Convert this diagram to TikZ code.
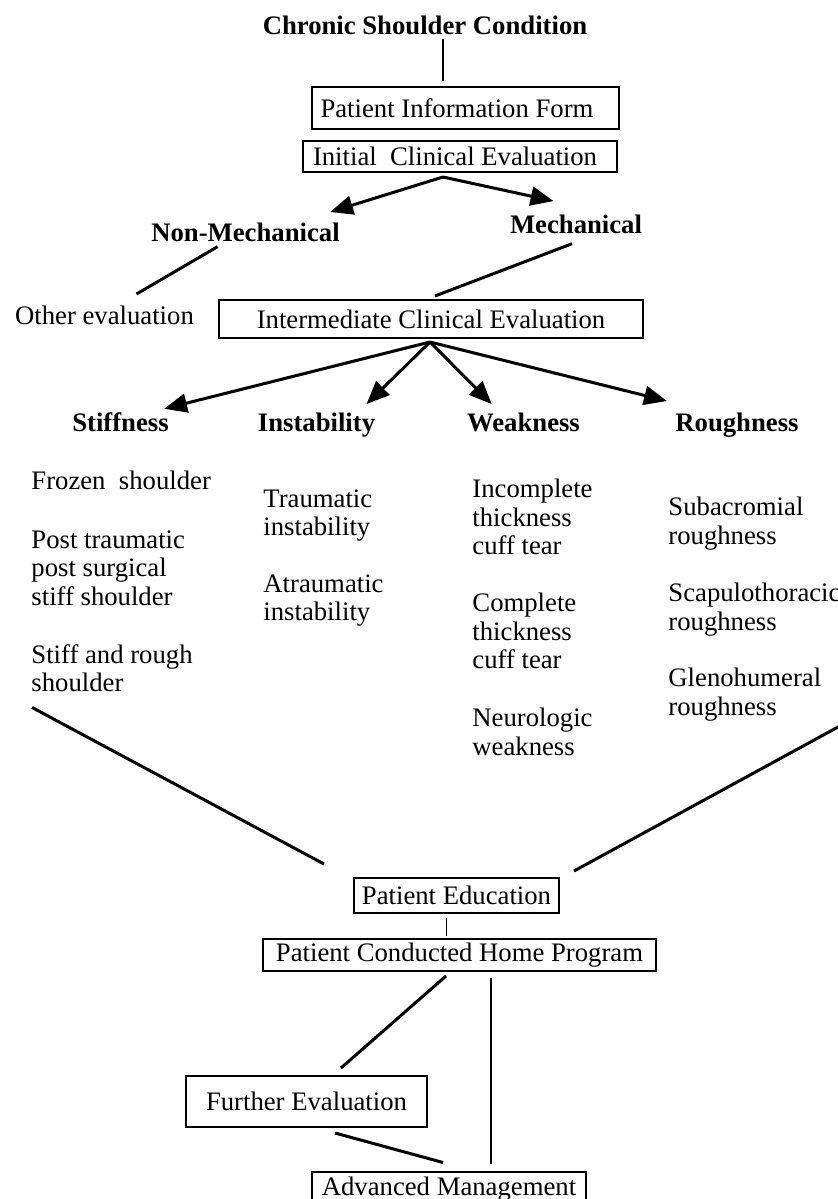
\documentclass[tikz,border=0pt]{standalone}
\usepackage{fontspec}
\setmainfont{Liberation Serif}
\usetikzlibrary{arrows.meta}
\newlength\upx
\setlength\upx{0.4494pt}
\tikzset{
  stepbox/.style={draw,line width=0.9pt,inner sep=0pt,font=\fontsize{12}{12.8}\selectfont},
  headtext/.style={anchor=base,inner sep=0pt,font=\fontsize{12}{12.8}\selectfont\bfseries},
  plaintext/.style={anchor=base,inner sep=0pt,font=\fontsize{12}{12.8}\selectfont},
  listtext/.style={anchor=north west,inner sep=0pt,align=left,font=\fontsize{12}{12.8}\selectfont},
  link/.style={line width=1.35pt},
  vlink/.style={line width=0.75pt},
  arr/.style={-{Triangle[length=10.3pt,width=8.5pt]},line width=1.35pt},
}

\begin{document}
\begin{tikzpicture}[x=\upx,y=-\upx]
  \useasboundingbox (0,0) rectangle (838,1199);
  \fill[white] (0,0) rectangle (838,1199);
  % intake
  \node[headtext] (title) at (425,34) {Chronic Shoulder Condition};
  \node[stepbox,minimum width=307\upx,minimum height=42\upx,text width=290\upx,align=flush left] (pif) at (465.5,108) {Patient Information Form};
  \node[stepbox,minimum width=314\upx,minimum height=31\upx,text width=294\upx,align=flush left] (ice) at (460,156.5) {Initial\ \ Clinical Evaluation};
  \node[headtext] (nonmech) at (245.5,241) {Non-Mechanical};
  \node[headtext] (mech) at (576,233) {Mechanical};
  \node[plaintext] (other) at (104.5,324) {Other evaluation};
  \node[stepbox,minimum width=424\upx,minimum height=38\upx] (inter) at (431,319) {Intermediate Clinical Evaluation};
  % the four groups
  \node[headtext] (stiff) at (120.5,431) {Stiffness};
  \node[headtext] (instab) at (316.5,431) {Instability};
  \node[headtext] (weak) at (523.5,431) {Weakness};
  \node[headtext] (rough) at (737,431) {Roughness};
  \node[listtext] (frozen) at (31,471) {Frozen\ \ shoulder};
  \node[listtext] (posttr) at (31,530) {Post traumatic\\post surgical\\stiff shoulder};
  \node[listtext] (stiffrough) at (31,644) {Stiff and rough\\shoulder};
  \node[listtext] (traum) at (263,489) {Traumatic\\instability};
  \node[listtext] (atraum) at (263,574) {Atraumatic\\instability};
  \node[listtext] (incompl) at (472,479) {Incomplete\\thickness\\cuff tear};
  \node[listtext] (compl) at (472,593) {Complete\\thickness\\cuff tear};
  \node[listtext] (neuro) at (472,708) {Neurologic\\weakness};
  \node[listtext] (subacr) at (668,497) {Subacromial\\roughness};
  \node[listtext] (scapul) at (668,583) {Scapulothoracic\\roughness};
  \node[listtext] (glen) at (668,668) {Glenohumeral\\roughness};
  % management
  \node[stepbox,minimum width=205\upx,minimum height=35\upx] (pe) at (456.5,895.5) {Patient Education};
  \node[stepbox,minimum width=393\upx,minimum height=32\upx] (pchp) at (459.5,955) {Patient Conducted Home Program};
  \node[stepbox,minimum width=241\upx,minimum height=51\upx] (fe) at (306.5,1101.5) {Further Evaluation};
  \node[stepbox,minimum width=274\upx,minimum height=35\upx] (am) at (449,1189) {Advanced Management};

  \coordinate (icefan) at ([xshift=-17\upx,yshift=-4\upx]ice.south);
  \coordinate (interfan) at ([xshift=-1\upx,yshift=-3\upx]inter.south);

  \draw[vlink] ([xshift=18\upx,yshift=-4\upx]title.south) -- ([xshift=18\upx,yshift=5\upx]title.south |- pif.north);
  \draw[arr] (icefan) -- ([xshift=-10\upx,yshift=10\upx]nonmech.north east);
  \draw[arr] (icefan) -- ([xshift=44\upx,yshift=13\upx]mech.north west);
  \draw[link] ([xshift=-28\upx,yshift=-5\upx]nonmech.south) -- ([xshift=32\upx,yshift=11\upx]other.north);
  \draw[link] ([xshift=-4\upx,yshift=-10\upx]mech.south) -- ([xshift=4\upx,yshift=3\upx]inter.north);
  \draw[arr] (interfan) -- ([xshift=-5\upx,yshift=3\upx]stiff.north east);
  \draw[arr] (interfan) -- ([xshift=-9\upx,yshift=8\upx]instab.north east);
  \draw[arr] (interfan) -- ([xshift=25\upx,yshift=8\upx]weak.north west);
  \draw[arr] (interfan) -- ([xshift=-8\upx,yshift=11\upx]rough.north west);
  \draw[link] ([xshift=1\upx,yshift=-15\upx]stiffrough.south west) -- ([xshift=-29\upx,yshift=13\upx]pe.north west);
  \draw[link] ([xshift=17\upx,yshift=-5\upx]glen.south east) -- ([xshift=14\upx,yshift=6\upx]pe.north east);
  \draw[vlink] ([xshift=-10\upx,yshift=-4\upx]pe.south) -- ([xshift=-10\upx,yshift=2\upx]pe.south |- pchp.north);
  \draw[link] ([xshift=-13.5\upx,yshift=-4\upx]pchp.south) -- ([xshift=34.5\upx,yshift=7\upx]fe.north);
  \draw[vlink] ([xshift=31.5\upx,yshift=-6\upx]pchp.south) -- ([xshift=31.5\upx,yshift=7\upx]pchp.south |- am.north);
  \draw[link] ([xshift=28.5\upx,yshift=-5\upx]fe.south) -- ([xshift=-6\upx,yshift=8\upx]am.north);
\end{tikzpicture}
\end{document}
